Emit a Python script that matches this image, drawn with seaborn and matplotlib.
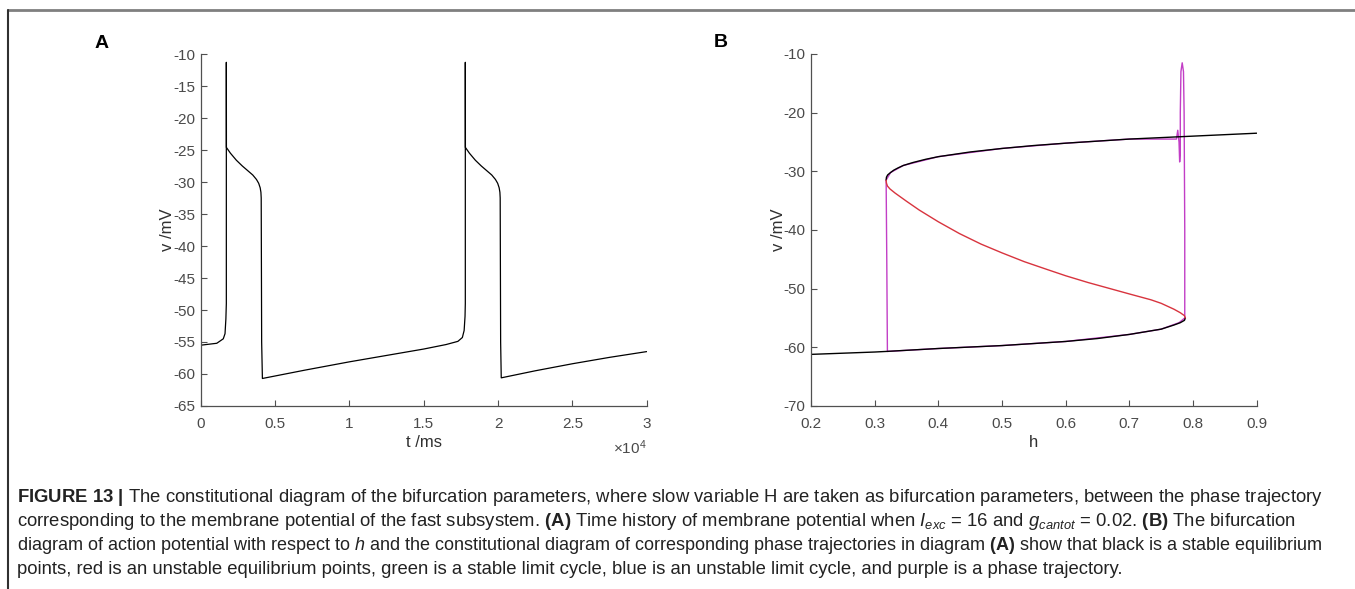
import matplotlib
matplotlib.use("Agg")
import matplotlib.pyplot as plt
from matplotlib import font_manager
from matplotlib.lines import Line2D
import seaborn as sns
import pandas as pd

# ---- Panel A: membrane potential time history ----
t_ms = [0, 1081, 1519, 1636, 1694, 1724, 1724, 1730, 2000, 2400, 2800, 3200, 3500, 3750, 3900, 4000,
        4050, 4070, 4100, 4150,
        7000, 10000, 13000, 15000, 16500, 17300, 17600, 17720, 17780, 17799, 17799, 17805,
        18075, 18475, 18875, 19275, 19575, 19825, 19975, 20075, 20125, 20145, 20175, 20216,
        22500, 25000, 27500, 30000]
v_mv = [-55.5, -55.2, -54.5, -53.7, -51.4, -49.0, -11.3, -24.6, -25.5, -26.6, -27.5, -28.3, -28.9, -29.6, -30.2, -30.9,
        -31.6, -32.5, -55.0, -60.7,
        -59.4, -58.1, -56.9, -56.1, -55.4, -54.9, -54.3, -53.2, -51.0, -49.0, -11.3, -24.6,
        -25.5, -26.6, -27.5, -28.3, -28.9, -29.6, -30.2, -30.9, -31.6, -32.5, -55.0, -60.6,
        -59.5, -58.4, -57.4, -56.5]
t_ticks = [0, 5000, 10000, 15000, 20000, 25000, 30000]
t_ticklabels = ["0", "0.5", "1", "1.5", "2", "2.5", "3"]
vA_ticks = [-65, -60, -55, -50, -45, -40, -35, -30, -25, -20, -15, -10]

# ---- Panel B: bifurcation diagram with respect to h ----
upper_h = [0.318, 0.3185, 0.3205, 0.325, 0.33, 0.337, 0.345, 0.36, 0.38, 0.40, 0.45, 0.50, 0.55,
           0.60, 0.65, 0.70, 0.80, 0.90]
upper_v = [-31.5, -31.0, -30.6, -30.2, -29.8, -29.4, -29.0, -28.5, -27.95, -27.5, -26.7, -26.1, -25.6,
           -25.2, -24.85, -24.5, -24.0, -23.5]
lower_h = [0.20, 0.30, 0.318, 0.40, 0.50, 0.60, 0.65, 0.70, 0.75, 0.77, 0.78, 0.7865, 0.788]
lower_v = [-61.2, -60.8, -60.7, -60.2, -59.7, -59.0, -58.5, -57.8, -56.9, -56.2, -55.8, -55.4, -55.0]
middle_h = [0.788, 0.7865, 0.78, 0.77, 0.75, 0.734, 0.70, 0.67, 0.635, 0.60, 0.57, 0.535, 0.50,
            0.467, 0.433, 0.40, 0.37, 0.35, 0.332, 0.324, 0.320, 0.3185, 0.318]
middle_v = [-55.0, -54.6, -54.1, -53.5, -52.5, -51.9, -50.9, -50.0, -48.95, -47.8, -46.7, -45.4, -43.9,
            -42.4, -40.6, -38.6, -36.6, -35.1, -33.7, -33.0, -32.5, -32.0, -31.5]
traj_h = [0.320, 0.40, 0.50, 0.60, 0.70, 0.75, 0.778, 0.787, 0.787, 0.786, 0.785, 0.783, 0.781, 0.780,
          0.780, 0.779, 0.778, 0.776, 0.774, 0.70, 0.60, 0.50, 0.40, 0.345, 0.325, 0.318, 0.319, 0.320]
traj_v = [-60.7, -60.2, -59.7, -59.0, -57.8, -56.9, -55.8, -55.0, -40.0, -20.0, -13.0, -11.5, -13.0, -20.0,
          -27.0, -28.4, -25.0, -23.0, -24.5, -24.5, -25.2, -26.1, -27.5, -29.0, -30.2, -31.5, -45.0, -60.7]
h_ticks = [0.2, 0.3, 0.4, 0.5, 0.6, 0.7, 0.8, 0.9]
h_ticklabels = ["0.2", "0.3", "0.4", "0.5", "0.6", "0.7", "0.8", "0.9"]
vB_ticks = [-70, -60, -50, -40, -30, -20, -10]

sns.set_style("ticks")
installed = {f.name for f in font_manager.fontManager.ttflist}
base_font = "Liberation Sans" if "Liberation Sans" in installed else "DejaVu Sans"
cap_font = "Liberation Sans Narrow" if "Liberation Sans Narrow" in installed else base_font
plt.rcParams["font.family"] = [base_font, "DejaVu Sans"]
plt.rcParams["axes.unicode_minus"] = False
plt.rcParams["mathtext.fontset"] = "custom"
plt.rcParams["mathtext.rm"] = cap_font
plt.rcParams["mathtext.it"] = cap_font + ":italic"
plt.rcParams["mathtext.bf"] = cap_font + ":bold"

W, H = 1355, 589
fig = plt.figure(figsize=(W / 100, H / 100), dpi=100)

axA = fig.add_axes([200.7 / W, 1 - 406 / H, 446 / W, 352 / H])
axB = fig.add_axes([811 / W, 1 - 406 / H, 445.7 / W, 352 / H])

dfA = pd.DataFrame({"t": t_ms, "v": v_mv})
sns.lineplot(data=dfA, x="t", y="v", ax=axA, sort=False, estimator=None,
             color="black", linewidth=0.9)

purple = "#c23ec6"
red = "#d8343e"
sns.lineplot(x=traj_h, y=traj_v, ax=axB, sort=False, estimator=None, color=purple, linewidth=1.0)
sns.lineplot(x=lower_h, y=lower_v, ax=axB, sort=False, estimator=None, color="black", linewidth=1.0)
sns.lineplot(x=upper_h, y=upper_v, ax=axB, sort=False, estimator=None, color="black", linewidth=1.0)
sns.lineplot(x=middle_h, y=middle_v, ax=axB, sort=False, estimator=None, color=red, linewidth=1.0)

spine_col = "#505050"
tick_col = "#4a4a4a"
for ax in (axA, axB):
    sns.despine(ax=ax)
    for s in ("left", "bottom"):
        ax.spines[s].set_color(spine_col)
        ax.spines[s].set_linewidth(0.9)
    ax.tick_params(direction="in", length=4, width=0.8, color=spine_col,
                   labelcolor=tick_col, labelsize=11)
    ax.tick_params(axis="x", pad=8)
    ax.tick_params(axis="y", pad=4)

axA.set_xlim(0, 30000)
axA.set_ylim(-65, -10)
axA.set_xticks(t_ticks)
axA.set_xticklabels(t_ticklabels)
axA.set_yticks(vA_ticks)
axA.set_xlabel("t /ms", fontsize=12, color="#303030", labelpad=3)
axA.set_ylabel("v /mV", fontsize=12, color="#303030", labelpad=-1)
axA.text(1.0, -0.092, r"$\times 10^4$", transform=axA.transAxes, ha="right", va="top",
         fontsize=11, color=tick_col, family=base_font)

axB.set_xlim(0.2, 0.9)
axB.set_ylim(-70, -10)
axB.set_xticks(h_ticks)
axB.set_xticklabels(h_ticklabels)
axB.set_yticks(vB_ticks)
axB.set_xlabel("h", fontsize=12, color="#303030", labelpad=3)
axB.set_ylabel("v /mV", fontsize=12, color="#303030", labelpad=-1.5)

fig.text(95 / W, 1 - 48 / H, "A", fontsize=14, fontweight="bold", color="black", va="baseline")
fig.text(714 / W, 1 - 47 / H, "B", fontsize=14, fontweight="bold", color="black", va="baseline")

# outer frame of the figure panel
frame_col = "#7f7f7f"
fig.add_artist(Line2D([8 / W, 1.0], [1 - 10 / H, 1 - 10 / H], transform=fig.transFigure,
                      color=frame_col, linewidth=2.0))
fig.add_artist(Line2D([8 / W, 8 / W], [1 - 10 / H, 0.0], transform=fig.transFigure,
                      color="#303030", linewidth=1.5))

caption = [
    r"$\mathbf{FIGURE\ 13\ |}$ The constitutional diagram of the bifurcation parameters, where slow variable H are taken as bifurcation parameters, between the phase trajectory",
    r"corresponding to the membrane potential of the fast subsystem. $\mathbf{(A)}$ Time history of membrane potential when $I_{exc}$ = 16 and $g_{cantot}$ = 0.02. $\mathbf{(B)}$ The bifurcation",
    r"diagram of action potential with respect to $h$ and the constitutional diagram of corresponding phase trajectories in diagram $\mathbf{(A)}$ show that black is a stable equilibrium",
    r"points, red is an unstable equilibrium points, green is a stable limit cycle, blue is an unstable limit cycle, and purple is a phase trajectory.",
]
caption_sizes = [13.3, 13.3, 12.95, 13.3]
for i, (line, size) in enumerate(zip(caption, caption_sizes)):
    fig.text(17 / W, 1 - (497 + 24 * i) / H, line, fontsize=size, color="#222222",
             family=cap_font, va="center", ha="left")

fig.savefig("out.png", dpi=100)
